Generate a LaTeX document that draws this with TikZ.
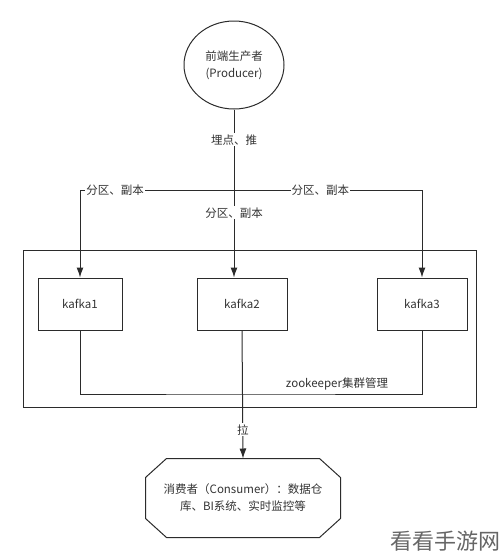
\documentclass[tikz,border=0pt]{standalone}
\usepackage{fontspec}
\newfontfamily\cjk{Noto Sans CJK SC}
\usepackage{tikz}
\usetikzlibrary{arrows.meta,positioning,shapes.geometric}
\definecolor{linegray}{HTML}{2B2B2B}
\definecolor{textgray}{HTML}{333333}

\tikzset{
  broker/.style={draw, rectangle, minimum width=90pt, minimum height=52pt},
  lbl/.style={fill=white, inner sep=1pt},
  flow/.style={-{Latex[length=10pt, width=7pt]}},
}

\begin{document}
\begin{tikzpicture}[x=1pt, y=-1pt, line width=1pt, draw=linegray, text=textgray,
    every node/.style={font=\cjk\fontsize{11.5}{17}\selectfont}]
    \useasboundingbox (0,0) rectangle (500,560);

    \node[draw, ellipse, minimum width=100pt, minimum height=88pt, align=center]
      (producer) at (234,65) {前端生产者\\(Producer)};
    \coordinate (split) at (234,190);

    % cluster box with the three brokers
    \node[draw, rectangle, minimum width=453pt, minimum height=157pt] (cluster) at (249.5,328.5) {};
    \node[broker, minimum width=84pt] (k1) at (80,304) {kafka1};
    \node[broker] (k2) at (242,304) {kafka2};
    \node[broker] (k3) at (422,304) {kafka3};

    \node[rectangle, minimum width=194pt, minimum height=78pt, align=center]
      (consumer) at (243,498) {消费者（Consumer）：数据仓\\库、BI系统、实时监控等};
    % octagon outline round the consumer
    \draw ([xshift=21pt]consumer.north west) -- ([xshift=-21pt]consumer.north east)
      -- ([yshift=-19pt]consumer.north east) -- ([yshift=19pt]consumer.south east)
      -- ([xshift=-21pt]consumer.south east) -- ([xshift=21pt]consumer.south west)
      -- ([yshift=19pt]consumer.south west) -- ([yshift=-19pt]consumer.north west) -- cycle;

    \draw (producer) -- node[lbl, pos=0.375] (push) {埋点、推} (split);
    \draw[flow] (split) -| node[lbl, pos=0.386] (part1) {分区、副本} (k1.north);
    \draw[flow] (split) -- node[lbl, pos=0.26] (part2) {分区、副本} (split |- k2.north);
    \draw[flow] (split) -| node[lbl, pos=0.23] (part3) {分区、副本} (k3.north);

    \coordinate (zk) at (250,394);
    \draw (k1.south) |- (zk) -| (k3.south);
    \node (zklabel) at (337,384) {zookeeper集群管理};

    \draw[flow] (k2.south) -- node[lbl, pos=0.775] (pull) {拉} (consumer.north);

    \node[text=gray!80!black, font=\cjk\fontsize{22}{24}\selectfont, anchor=east, inner sep=0pt]
      (mark) at (501,541) {看看手游网};
\end{tikzpicture}
\end{document}
